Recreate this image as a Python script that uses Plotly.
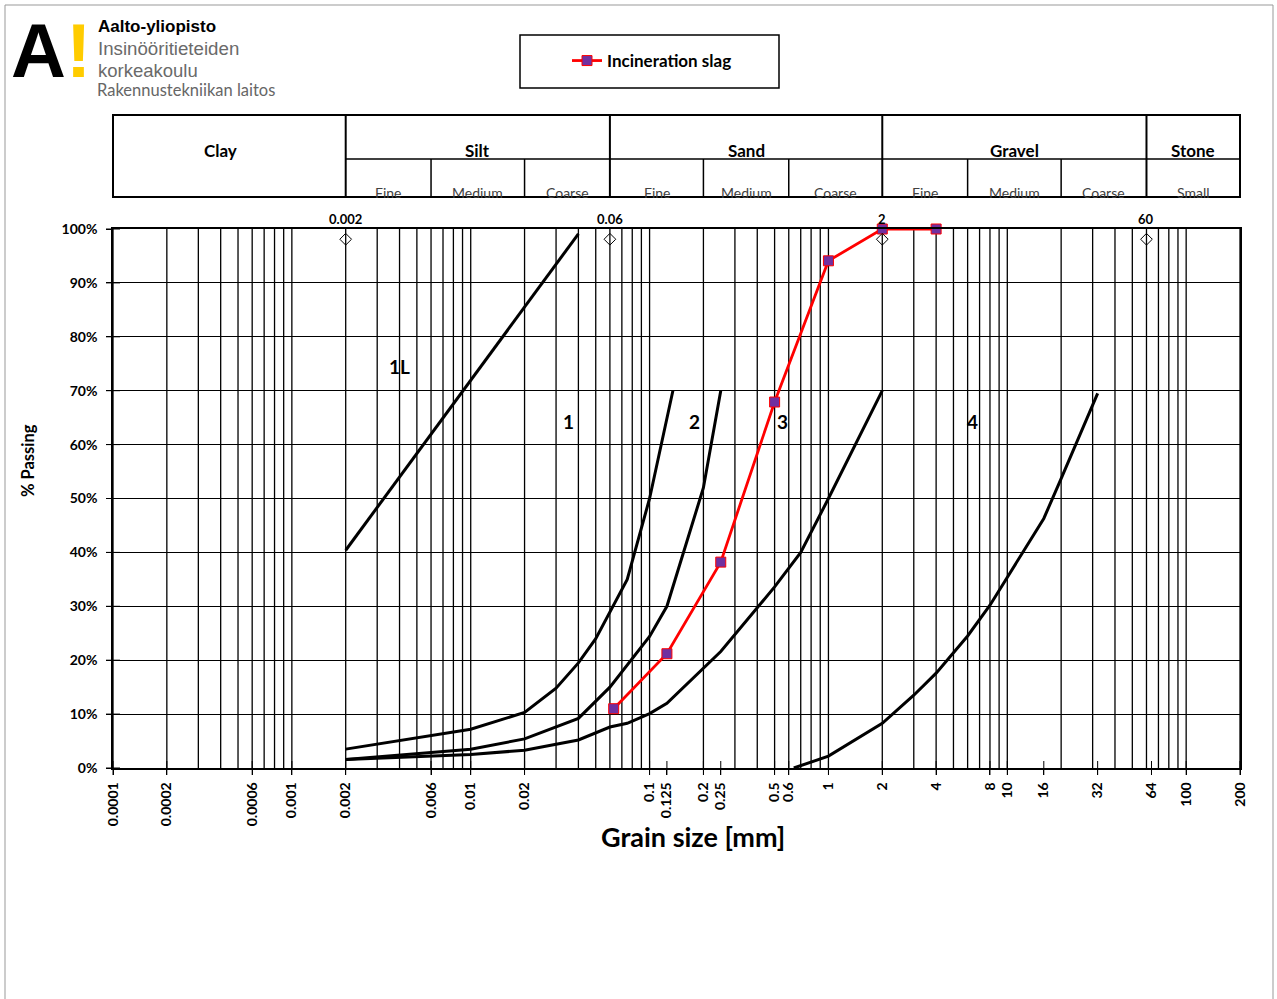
import math
import plotly.graph_objects as go

# ---------------- data ----------------
X_TICK_VALS = [0.0001, 0.0002, 0.0006, 0.001, 0.002, 0.006, 0.01, 0.02, 0.1, 0.125,
               0.2, 0.25, 0.5, 0.6, 1, 2, 4, 8, 10, 16, 32, 64, 100, 200]
X_TICK_TEXT = ["0.0001", "0.0002", "0.0006", "0.001", "0.002", "0.006", "0.01", "0.02",
               "0.1", "0.125", "0.2", "0.25", "0.5", "0.6", "1", "2", "4", "8", "10",
               "16", "32", "64", "100", "200"]
Y_TICK_VALS = [0, 10, 20, 30, 40, 50, 60, 70, 80, 90, 100]
Y_TICK_TEXT = ["0%", "10%", "20%", "30%", "40%", "50%", "60%", "70%", "80%", "90%", "100%"]

SLAG_SIZE = [0.063, 0.125, 0.25, 0.5, 1, 2, 4]
SLAG_PASS = [11, 21.2, 38.2, 67.9, 94.1, 100, 100]

CURVE_1L_SIZE = [0.002, 0.04]
CURVE_1L_PASS = [40.4, 99.1]
CURVE_1_SIZE = [0.002, 0.01, 0.02, 0.03, 0.04, 0.05, 0.075, 0.1, 0.135]
CURVE_1_PASS = [3.5, 7.2, 10.3, 14.8, 19.5, 24.0, 35.0, 50.0, 70.0]
CURVE_2_SIZE = [0.002, 0.01, 0.02, 0.04, 0.06, 0.1, 0.125, 0.2, 0.25]
CURVE_2_PASS = [1.6, 3.5, 5.4, 9.2, 15.0, 24.4, 30.0, 52.0, 70.0]
CURVE_3_SIZE = [0.002, 0.01, 0.02, 0.04, 0.06, 0.075, 0.1, 0.125, 0.25, 0.5, 0.7, 1, 2]
CURVE_3_PASS = [1.6, 2.5, 3.3, 5.2, 7.6, 8.3, 10.1, 12.0, 21.6, 33.6, 40.0, 50.0, 70.0]
CURVE_4_SIZE = [0.64, 1, 2, 3, 4, 6, 8, 16, 20, 32]
CURVE_4_PASS = [0.0, 2.2, 8.3, 13.5, 17.6, 24.5, 30.2, 46.3, 53.7, 69.5]

CURVE_LABELS = ["1L", "1", "2", "3", "4"]
CURVE_LABEL_SIZE = [0.0040, 0.035, 0.179, 0.55, 6.4]
CURVE_LABEL_PASS = [74.4, 64.2, 64.2, 64.2, 64.2]

BOUNDARY_SIZES = [0.002, 0.06, 2, 60]
BOUNDARY_LABELS = ["0.002", "0.06", "2", "60"]
BOUNDARY_MARK_PASS = [98.1, 98.1, 98.1, 98.1]

MAIN_FRACTIONS = ["Clay", "Silt", "Sand", "Gravel", "Stone"]
MAIN_EDGES = [0.0001, 0.002, 0.06, 2, 60, 200]
SUB_FRACTIONS = ["Fine", "Medium", "Coarse", "Fine", "Medium", "Coarse",
                 "Fine", "Medium", "Coarse", "Small"]
SUB_EDGES = [0.002, 0.006, 0.02, 0.06, 0.2, 0.6, 2, 6, 20, 60, 200]

# grid positions (1..9 per decade)
GRID_VALS = [m * 10.0 ** d for d in range(-4, 2) for m in range(1, 10)] + [100, 200]

FONT = "Lato, 'Open Sans', sans-serif"
NARROW = "'Liberation Sans Narrow', 'Liberation Sans', Arial, sans-serif"

# pixel helpers for paper placement of page decorations
L, R, T, B = 113, 37, 229, 231
W, H = 1277, 999
PW, PH = W - L - R, H - T - B


def px(x):
    return (x - L) / PW


def py(y):
    return (H - B - y) / PH


fig = go.Figure()

curve_sets = [(CURVE_1L_SIZE, CURVE_1L_PASS), (CURVE_1_SIZE, CURVE_1_PASS),
              (CURVE_2_SIZE, CURVE_2_PASS), (CURVE_3_SIZE, CURVE_3_PASS),
              (CURVE_4_SIZE, CURVE_4_PASS)]
for xs, ys in curve_sets:
    fig.add_trace(go.Scatter(x=xs, y=ys, mode="lines",
                             line=dict(color="black", width=3),
                             showlegend=False, hoverinfo="skip"))

fig.add_trace(go.Scatter(
    x=SLAG_SIZE, y=SLAG_PASS, mode="lines+markers", name="Incineration slag",
    line=dict(color="#FF0000", width=2.8),
    marker=dict(symbol="square", size=10, color="#7030A0",
                line=dict(color="#FF0000", width=1)),
    cliponaxis=False, showlegend=True))

# boundary diamonds
fig.add_trace(go.Scatter(
    x=BOUNDARY_SIZES, y=BOUNDARY_MARK_PASS, mode="markers",
    marker=dict(symbol="diamond-open", size=9, color="black", line=dict(width=1)),
    showlegend=False, hoverinfo="skip"))

# cross ticks
fig.add_trace(go.Scatter(
    x=X_TICK_VALS, y=[0] * len(X_TICK_VALS), mode="markers",
    marker=dict(symbol="line-ns", size=10, line=dict(width=1, color="black")),
    cliponaxis=False, showlegend=False, hoverinfo="skip"))
fig.add_trace(go.Scatter(
    x=[X_TICK_VALS[0]] * len(Y_TICK_VALS), y=Y_TICK_VALS, mode="markers",
    marker=dict(symbol="line-ew", size=10, line=dict(width=1, color="black")),
    cliponaxis=False, showlegend=False, hoverinfo="skip"))

shapes = []
# vertical grid lines
for v in GRID_VALS:
    shapes.append(dict(type="line", xref="x", yref="paper", x0=v, x1=v, y0=0, y1=1,
                       line=dict(color="black", width=1.3), layer="below"))

# header table
y_top, y_mid, y_bot = py(115), py(159), py(197)
shapes.append(dict(type="rect", xref="paper", yref="paper", x0=0, x1=1, y0=y_bot, y1=y_top,
                   line=dict(color="black", width=2)))
shapes.append(dict(type="line", xref="x", yref="paper", x0=MAIN_EDGES[1], x1=MAIN_EDGES[-1],
                   y0=y_mid, y1=y_mid, line=dict(color="black", width=1.5)))
for v in MAIN_EDGES[1:-1]:
    shapes.append(dict(type="line", xref="x", yref="paper", x0=v, x1=v, y0=y_bot, y1=y_top,
                       line=dict(color="black", width=2)))
for v in SUB_EDGES[1:-1]:
    if v in MAIN_EDGES:
        continue
    shapes.append(dict(type="line", xref="x", yref="paper", x0=v, x1=v, y0=y_bot, y1=y_mid,
                       line=dict(color="black", width=1.5)))

# legend box
shapes.append(dict(type="rect", xref="paper", yref="paper", x0=px(520), x1=px(779),
                   y0=py(88), y1=py(35), line=dict(color="black", width=1.5)))
# page frame
shapes.append(dict(type="rect", xref="paper", yref="paper", x0=px(5), x1=px(1273),
                   y0=py(1010), y1=py(5), line=dict(color="#999999", width=1)))

ann = []
for i, name in enumerate(MAIN_FRACTIONS):
    a, b = MAIN_EDGES[i], MAIN_EDGES[i + 1]
    xc = (math.log10(a) + math.log10(b)) / 2
    ann.append(dict(text=name, xref="x", yref="paper", x=xc, y=py(151),
                    xanchor="center", yanchor="middle",
                    xshift=-9 if name == "Clay" else 0,
                    showarrow=False, font=dict(family=FONT, size=17, color="black", weight="bold")))
for i, name in enumerate(SUB_FRACTIONS):
    a, b = SUB_EDGES[i], SUB_EDGES[i + 1]
    xc = (math.log10(a) + math.log10(b)) / 2
    ann.append(dict(text=name, xref="x", yref="paper", x=xc, y=py(193),
                    xanchor="center", yanchor="middle",
                    showarrow=False, font=dict(family=FONT, size=14, color="#404040")))

for v, t in zip(BOUNDARY_SIZES, BOUNDARY_LABELS):
    ann.append(dict(text=t, xref="x", yref="paper", x=math.log10(v), y=py(219),
                    xanchor="center", yanchor="middle",
                    showarrow=False, font=dict(family=FONT, size=13, color="black", weight="bold")))

for t, xv, yv in zip(CURVE_LABELS, CURVE_LABEL_SIZE, CURVE_LABEL_PASS):
    ann.append(dict(text=t, xref="x", yref="y", x=math.log10(xv), y=yv, showarrow=False,
                    xanchor="center", yanchor="middle",
                    font=dict(family=FONT, size=19, color="black", weight="bold")))

# axis titles
ann.append(dict(text="Grain size [mm]", xref="paper", yref="paper", x=px(693), y=py(836),
                xanchor="center", yanchor="middle",
                showarrow=False, font=dict(family=FONT, size=27, color="black", weight="bold")))
ann.append(dict(text="% Passing", xref="paper", yref="paper", x=px(28), y=py(461),
                xanchor="center", yanchor="middle",
                textangle=-90, showarrow=False,
                font=dict(family=FONT, size=16.5, color="black", weight="bold")))

# logo
ann.append(dict(text='A<span style="color:#FFCC00">!</span>',
                xref="paper", yref="paper",
                x=px(9), y=py(50), xanchor="left", yanchor="middle", showarrow=False,
                font=dict(family="'Liberation Sans', Arial, sans-serif", size=76,
                          color="black", weight="bold")))
ann.append(dict(text="Aalto-yliopisto", xref="paper", yref="paper", x=px(96), y=py(27),
                xanchor="left", yanchor="middle", showarrow=False,
                font=dict(family=NARROW, size=17, color="black", weight="bold")))
ann.append(dict(text="Insinööritieteiden", xref="paper", yref="paper", x=px(96), y=py(49),
                xanchor="left", yanchor="middle", showarrow=False,
                font=dict(family=NARROW, size=18.7, color="#6a6a6a")))
ann.append(dict(text="korkeakoulu", xref="paper", yref="paper", x=px(96), y=py(70),
                xanchor="left", yanchor="middle", showarrow=False,
                font=dict(family=NARROW, size=18.5, color="#6a6a6a")))
ann.append(dict(text="Rakennustekniikan laitos", xref="paper", yref="paper", x=px(95), y=py(90),
                xanchor="left", yanchor="middle", showarrow=False,
                font=dict(family=FONT, size=16.5, color="#666666")))

fig.update_layout(
    width=W, height=H,
    margin=dict(l=L, r=R, t=T, b=B, pad=0),
    paper_bgcolor="white", plot_bgcolor="white",
    shapes=shapes, annotations=ann,
    legend=dict(x=px(652), y=py(61), xanchor="center", yanchor="middle",
                bgcolor="rgba(0,0,0,0)", borderwidth=0, itemwidth=30,
                font=dict(family=FONT, size=17, color="black", weight="bold")),
    xaxis=dict(type="log", range=[math.log10(X_TICK_VALS[0]), math.log10(X_TICK_VALS[-1])],
               tickmode="array", tickvals=X_TICK_VALS, ticktext=X_TICK_TEXT,
               tickangle=-90, ticks="outside", ticklen=5, tickcolor="black",
               ticklabelstandoff=2,
               showgrid=False, zeroline=False, showline=True, linecolor="black",
               linewidth=1.5, mirror=True,
               tickfont=dict(family=FONT, size=14, color="black", weight="bold")),
    yaxis=dict(range=[0, 100], tickmode="array", tickvals=Y_TICK_VALS, ticktext=Y_TICK_TEXT,
               ticks="outside", ticklen=5, tickcolor="black", ticklabelstandoff=6,
               showgrid=True, gridcolor="black", gridwidth=1.3, zeroline=False,
               showline=True, linecolor="black", linewidth=1.5, mirror=True,
               tickfont=dict(family=FONT, size=14, color="black", weight="bold")),
)

fig.write_html("out.html")
